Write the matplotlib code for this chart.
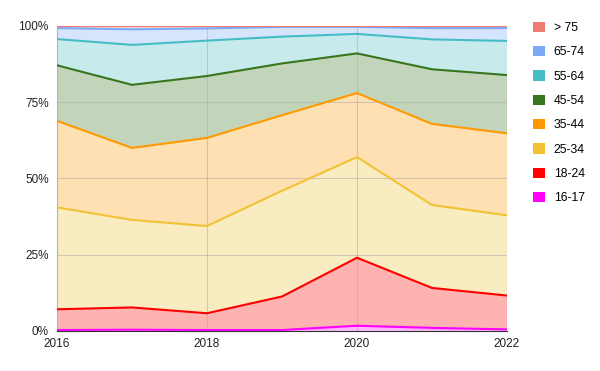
import numpy as np
import matplotlib
matplotlib.use("Agg")
import matplotlib.pyplot as plt
from matplotlib.patches import Patch
from matplotlib.ticker import FuncFormatter

plt.rcParams['font.family'] = ['Liberation Sans', 'DejaVu Sans']

years = [2016, 2017, 2018, 2019, 2020, 2021, 2022]
groups = ['16-17', '18-24', '25-34', '35-44', '45-54', '55-64', '65-74', '> 75']

# share of each age group per year (%)
age_16_17 = [0.3, 0.4, 0.3, 0.3, 1.7, 1.0, 0.5]
age_18_24 = [6.8, 7.3, 5.5, 11.0, 22.3, 13.1, 11.1]
age_25_34 = [33.4, 28.7, 28.6, 34.7, 33.0, 27.2, 26.3]
age_35_44 = [28.4, 23.6, 28.9, 24.8, 21.0, 26.6, 26.9]
age_45_54 = [18.2, 20.7, 20.3, 17.0, 13.0, 17.9, 19.1]
age_55_64 = [8.6, 13.1, 11.6, 8.8, 6.4, 9.8, 11.2]
age_65_74 = [3.6, 5.1, 4.0, 3.2, 2.3, 3.7, 4.2]
age_75_up = [0.7, 1.1, 0.8, 0.3, 0.3, 0.7, 0.7]

colors = ['#ff00ff', '#ff0000', '#f1c232', '#ff9900',
          '#38761d', '#46bdc6', '#7baaf7', '#f07b72']

vals = np.array([age_16_17, age_18_24, age_25_34, age_35_44,
                 age_45_54, age_55_64, age_65_74, age_75_up], dtype=float)
vals = vals / vals.sum(axis=0) * 100
cum = np.cumsum(vals, axis=0)

fig = plt.figure(figsize=(6, 3.71), dpi=100)
ax = fig.add_axes([0.095, 0.108, 0.75, 0.822])

ax.stackplot(years, vals, colors=colors, alpha=0.3, linewidth=0)
for i in range(len(groups)):
    ax.plot(years, cum[i], color=colors[i], lw=1.5, solid_joinstyle='miter', zorder=3)

ax.set_xlim(2016, 2022)
ax.set_ylim(0, 100)
ax.set_xticks([2016, 2018, 2020, 2022])
ax.set_yticks([0, 25, 50, 75, 100])
ax.yaxis.set_major_formatter(FuncFormatter(lambda v, p: f'{v:.0f}%'))
ax.grid(True, color='#b0b0b0', lw=0.8, alpha=0.6)
ax.set_axisbelow(False)
ax.tick_params(length=0, labelsize=8.5, colors='#222222', pad=6)
ax.tick_params(axis='x', pad=5)
for s in ['top', 'right']:
    ax.spines[s].set_visible(False)
ax.spines['left'].set_color('#c0c0c0')
ax.spines['bottom'].set_color('#333333')
ax.spines['bottom'].set_zorder(4)

handles = [Patch(facecolor=c, edgecolor='none') for c in colors][::-1]
fig.legend(handles, groups[::-1], loc='upper left', bbox_to_anchor=(0.88, 0.955),
           frameon=False, fontsize=8.8, handlelength=0.95, handleheight=0.95,
           handletextpad=0.75, labelspacing=0.97, borderaxespad=0)

fig.savefig('out.png', dpi=100)
